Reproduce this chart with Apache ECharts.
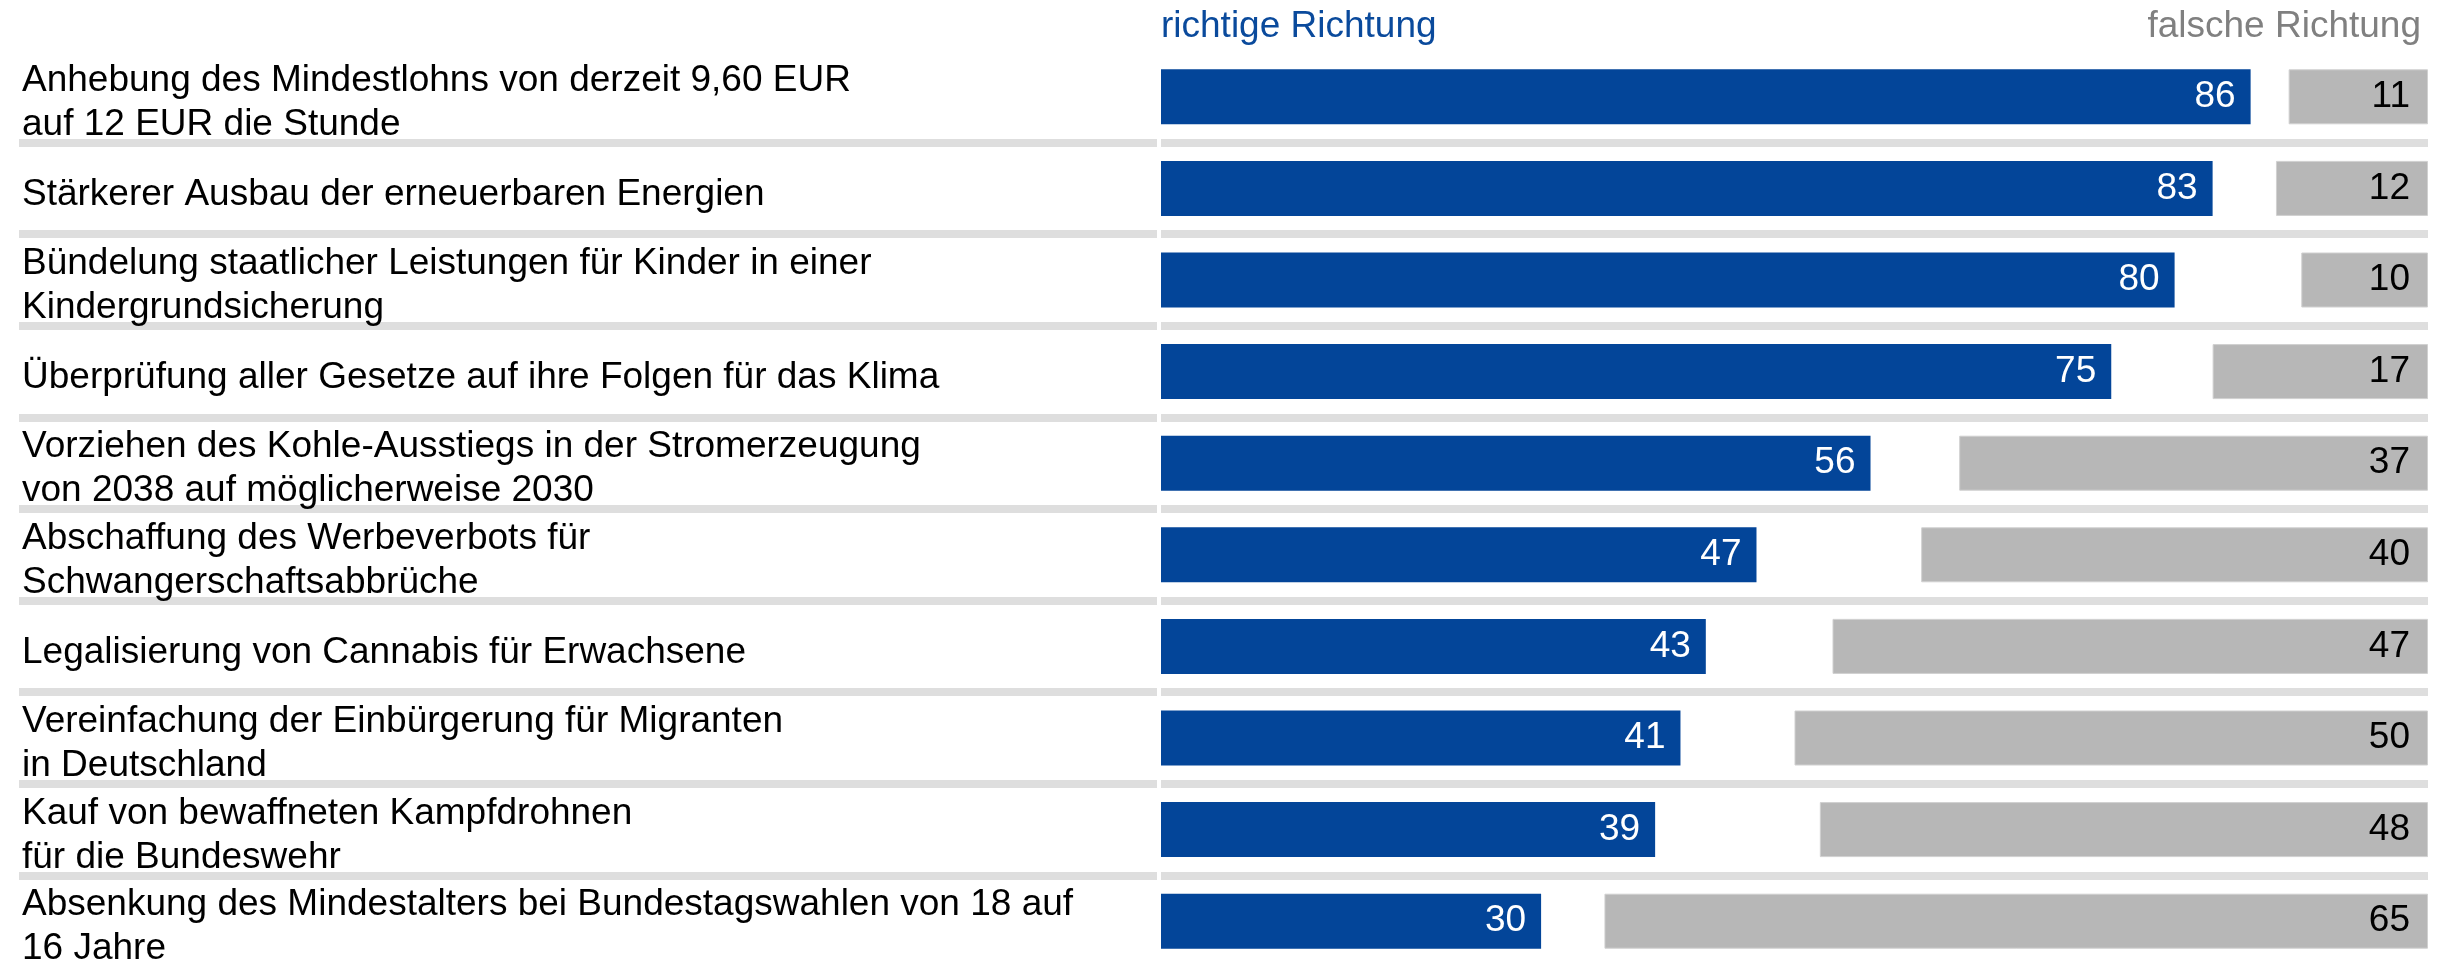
<!DOCTYPE html>
<html>
<head>
<meta charset="utf-8">
<script src="https://cdn.jsdelivr.net/npm/echarts@6/dist/echarts.min.js"></script>
<style>
  html, body {
    margin: 0;
    padding: 0;
    background: #fff;
  }

  #main {
    width: 2443px;
    height: 961px;
  }
</style>
</head>
<body>
<div id="main"></div>
<script>
  var themen = [
    "Anhebung des Mindestlohns von derzeit 9,60 EUR\nauf 12 EUR die Stunde",
    "Stärkerer Ausbau der erneuerbaren Energien",
    "Bündelung staatlicher Leistungen für Kinder in einer\nKindergrundsicherung",
    "Überprüfung aller Gesetze auf ihre Folgen für das Klima",
    "Vorziehen des Kohle-Ausstiegs in der Stromerzeugung\nvon 2038 auf möglicherweise 2030",
    "Abschaffung des Werbeverbots für\nSchwangerschaftsabbrüche",
    "Legalisierung von Cannabis für Erwachsene",
    "Vereinfachung der Einbürgerung für Migranten\nin Deutschland",
    "Kauf von bewaffneten Kampfdrohnen\nfür die Bundeswehr",
    "Absenkung des Mindestalters bei Bundestagswahlen von 18 auf\n16 Jahre"
  ];
  var richtig = [86, 83, 80, 75, 56, 47, 43, 41, 39, 30];
  var falsch = [11, 12, 10, 17, 37, 40, 47, 50, 48, 65];

  var font = "'Liberation Sans', Arial, sans-serif";
  var blau = "#034599";
  var grau = "#b7b7b7";
  var linie = "#dedede";

  var myChart = echarts.init(document.getElementById("main"));

  // Trennlinien zwischen den Zeilen (ohne oben/unten)
  var trenner = {
    show: true,
    showMinLine: false,
    showMaxLine: false,
    lineStyle: { color: linie, width: 8 }
  };

  var option = {
    backgroundColor: "#fff",
    animation: false,
    title: [
      {
        text: "richtige Richtung",
        left: 1161,
        top: 8,
        padding: 0,
        textStyle: { color: "#0a4a9c", fontSize: 37, fontWeight: "normal", fontFamily: font }
      },
      {
        text: "falsche Richtung",
        right: 22,
        top: 8,
        padding: 0,
        textStyle: { color: "#808080", fontSize: 37, fontWeight: "normal", fontFamily: font }
      }
    ],
    grid: [
      // Balken
      { left: 1161, right: 15, top: 51, height: 916, outerBoundsMode: "none", containLabel: false },
      // Trennlinien im Textbereich
      { left: 19, width: 1138, top: 51, height: 916, outerBoundsMode: "none", containLabel: false },
      // Beschriftung, etwas tiefer gesetzt
      { left: 19, width: 1138, top: 57, height: 916, outerBoundsMode: "none", containLabel: false }
    ],
    xAxis: [
      { type: "value", gridIndex: 0, min: 0, max: 100, show: false },
      { type: "value", gridIndex: 0, min: 0, max: 100, inverse: true, show: false },
      { type: "value", gridIndex: 1, min: 0, max: 1, show: false },
      { type: "value", gridIndex: 2, min: 0, max: 1, show: false }
    ],
    yAxis: [
      {
        type: "category",
        gridIndex: 0,
        data: themen,
        inverse: true,
        axisLine: { show: false },
        axisTick: { show: false },
        axisLabel: { show: false },
        splitLine: trenner
      },
      {
        type: "category",
        gridIndex: 1,
        data: themen,
        inverse: true,
        axisLine: { show: false },
        axisTick: { show: false },
        axisLabel: { show: false },
        splitLine: trenner
      },
      {
        type: "category",
        gridIndex: 2,
        data: themen,
        inverse: true,
        axisLine: { show: false },
        axisTick: { show: false },
        splitLine: { show: false },
        axisLabel: {
          align: "left",
          margin: -3,
          interval: 0,
          showMinLabel: true,
          showMaxLabel: true,
          hideOverlap: false,
          color: "#000",
          fontSize: 37,
          lineHeight: 44,
          fontFamily: font
        }
      }
    ],
    series: [
      {
        name: "richtige Richtung",
        type: "bar",
        xAxisIndex: 0,
        yAxisIndex: 0,
        data: richtig,
        barWidth: 55,
        barGap: "-100%",
        itemStyle: { color: blau },
        label: {
          show: true,
          position: "insideRight",
          distance: 15,
          color: "#fff",
          fontSize: 37,
          fontFamily: font
        }
      },
      {
        name: "falsche Richtung",
        type: "bar",
        xAxisIndex: 1,
        yAxisIndex: 0,
        data: falsch,
        barWidth: 55,
        barGap: "-100%",
        itemStyle: { color: grau, borderColor: "#d0d0d0", borderWidth: 1 },
        label: {
          show: true,
          position: "insideRight",
          distance: 18,
          color: "#000",
          fontSize: 37,
          fontFamily: font
        }
      }
    ]
  };

  myChart.setOption(option);
</script>
</body>
</html>
